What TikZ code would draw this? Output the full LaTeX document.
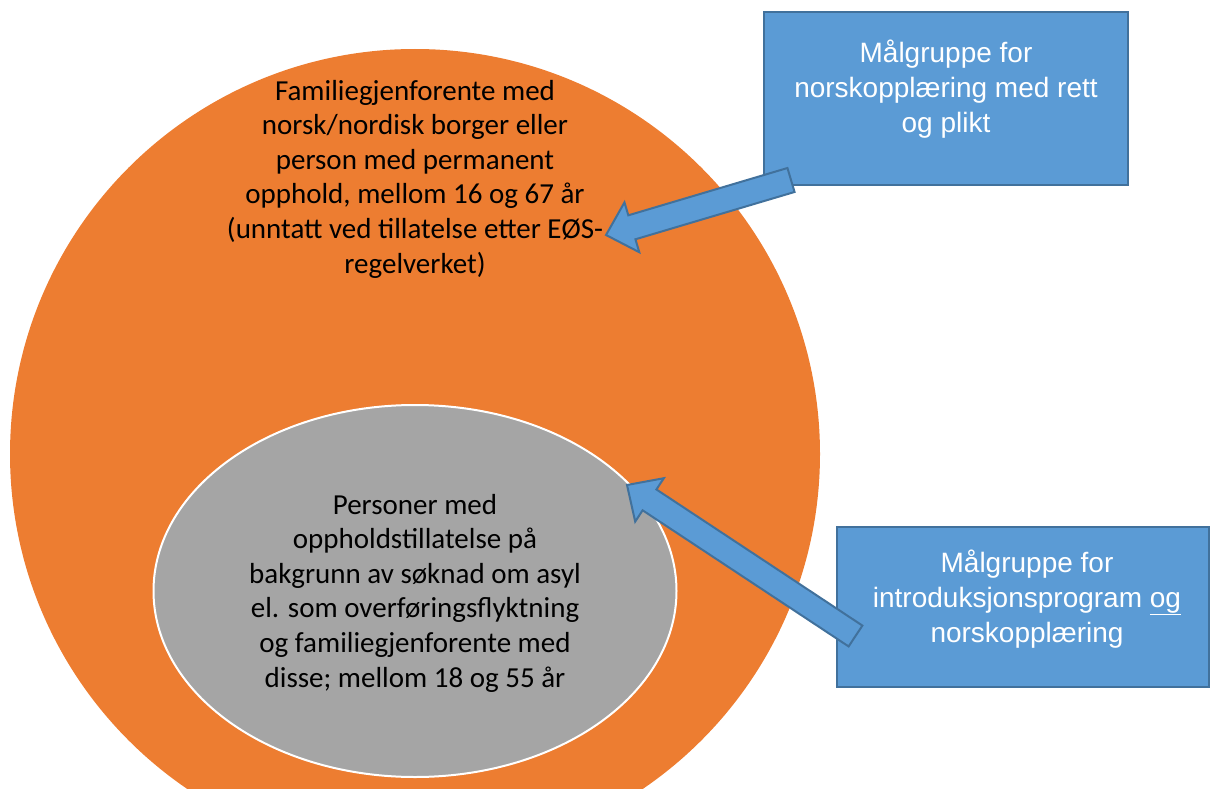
\documentclass[tikz,border=0pt]{standalone}
\usepackage{fontspec}
\setmainfont{Carlito}
\newfontfamily\arialfont{Liberation Sans}
\usetikzlibrary{calc,shapes.geometric}
\definecolor{orangeC}{HTML}{ED7D31}
\definecolor{grayC}{HTML}{A5A5A5}
\definecolor{blueC}{HTML}{5B9BD5}
\definecolor{blueB}{HTML}{41719C}
\newcommand{\blockarr}[3]{%
  \coordinate (h#3) at ($(#2)!27pt!(#1)$);
  \draw[barrow] ($(#1)!12.5pt!90:(#2)$) -- ($(h#3)!12.5pt!90:(#2)$) -- ($(h#3)!26pt!90:(#2)$) -- (#2)
    -- ($(h#3)!26pt!-90:(#2)$) -- ($(h#3)!12.5pt!-90:(#2)$) -- ($(#1)!12.5pt!-90:(#2)$) -- cycle;}
\begin{document}
\begin{tikzpicture}[x=1pt,y=-1pt,
  ortext/.style={align=center,inner sep=0pt,text=black,font=\fontsize{29}{34.6}\selectfont},
  bluebox/.style={draw=blueB,fill=blueC,line width=2pt,inner sep=0pt},
  boxtext/.style={align=center,inner sep=0pt,text=white,font=\arialfont\fontsize{28}{35}\selectfont},
  barrow/.style={draw=blueB,fill=blueC,line width=2pt,line join=miter}]
\useasboundingbox (0,0) rectangle (1210,789);
\clip (0,0) rectangle (1210,789);
\node[circle,fill=orangeC,minimum size=810,inner sep=0pt] (outer) at (415,454) {};
\node[ellipse,fill=grayC,draw=white,line width=2pt,minimum width=523,minimum height=372,inner sep=0pt] (inner) at (415,591) {};
\node[ortext] (t1) at (415,179) {Familiegjenforente med\\norsk/nordisk borger eller\\person med permanent\\opphold, mellom 16 og 67 år\\(unntatt ved tillatelse etter EØS-\\regelverket)};
\node[ortext] (t2) at (415,593) {Personer med\\oppholdstillatelse på\\bakgrunn av søknad om asyl\\el. som overføringsflyktning\\og familiegjenforente med\\disse; mellom 18 og 55 år};
\node[bluebox,minimum width=364,minimum height=173] (b1) at (946,98.5) {};
\node[boxtext] (bt1) at (946,89.5) {Målgruppe for\\norskopplæring med rett\\og plikt};
\node[bluebox,minimum width=372,minimum height=160] (b2) at (1023,607) {};
\node[boxtext] (bt2) at (1027,599) {Målgruppe for\\introduksjonsprogram \underline{og}\\norskopplæring};
\coordinate (tailA) at (791,180);
\coordinate (tipA) at (606,235);
\coordinate (tailB) at (855.5,636);
\coordinate (tipB) at (627,485);
\blockarr{tailA}{tipA}{A}
\blockarr{tailB}{tipB}{B}
\end{tikzpicture}
\end{document}
